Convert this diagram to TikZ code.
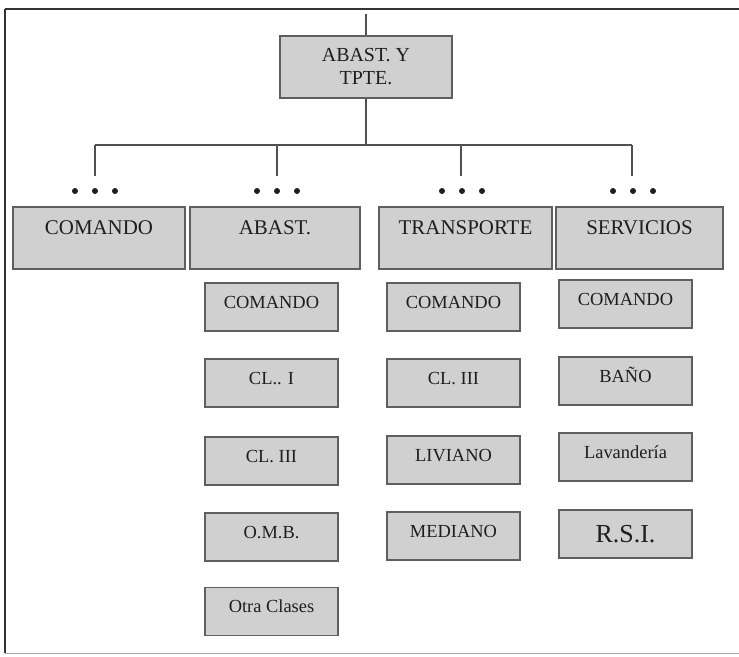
\documentclass[tikz,border=0pt]{standalone}
\usepackage{fontspec}
\setmainfont{Liberation Serif}
\usepackage{tikz}
\definecolor{caja}{RGB}{208,208,208}
\definecolor{borde}{RGB}{95,95,95}
\definecolor{linea}{RGB}{80,80,80}
\definecolor{texto}{RGB}{30,30,30}
\colorlet{marco}{black!80}
\newcommand\fa{\fontsize{20}{23}\selectfont}
\newcommand\fb{\fontsize{21}{24}\selectfont}
\newcommand\fc{\fontsize{18.5}{21}\selectfont}

\begin{document}
\begin{tikzpicture}[x=1bp,y=-1bp]%
        \useasboundingbox (0,0) rectangle (739,657);%%
        \draw[line width=1.8bp,marco] (5,9)--(739,9);%%
        \draw[line width=1.8bp,marco] (5,9)--(5,653);%%
        \draw[line width=1bp,black!35] (5,653)--(739,653);%%
        \begin{scope}[shape=rectangle,inner sep=0pt]
        \tikzstyle{every node}=[draw=borde,fill=caja,line width=1.1bp,text=texto,font=\fa,align=center] %%
        \node[minimum width=172bp,minimum height=62bp] (abt) at (366,67)  {ABAST. Y\\TPTE.}; %%
        \end{scope}
        \begin{scope}[shape=rectangle,inner sep=0pt]
        \tikzstyle{every node}=[draw=borde,fill=caja,line width=1.1bp,text=texto,font=\fb,minimum height=62bp,text height=14bp,text depth=22bp] %%
        \node[minimum width=172bp] (com) at (99,238)  {COMANDO}; %%
        \node[minimum width=170bp] (aba) at (275,238)  {ABAST.}; %%
        \node[minimum width=173bp] (tra) at (465.5,238)  {TRANSPORTE}; %%
        \node[minimum width=167bp] (ser) at (639.5,238)  {SERVICIOS}; %%
        \end{scope}
        \begin{scope}[shape=rectangle,inner sep=0pt]
        \tikzstyle{every node}=[draw=borde,fill=caja,line width=1.1bp,text=texto,font=\fc,minimum width=133bp,minimum height=48bp,text height=13bp,text depth=11bp] %%
        \node (a1) at (271.5,307)  {COMANDO}; %%
        \node (a2) at (271.5,383)  {CL.. I}; %%
        \node (a3) at (271.5,461)  {CL. III}; %%
        \node (a4) at (271.5,537)  {O.M.B.}; %%
        \node (a5) at (271.5,611.5)  {Otra Clases}; %%
        \node (t1) at (453.5,307)  {COMANDO}; %%
        \node (t2) at (453.5,383)  {CL. III}; %%
        \node (t3) at (453.5,460)  {LIVIANO}; %%
        \node (t4) at (453.5,536)  {MEDIANO}; %%
        \node (s1) at (625.5,304)  {COMANDO}; %%
        \node (s2) at (625.5,381)  {BAÑO}; %%
        \node (s3) at (625.5,457)  {Lavandería}; %%
        \node[font=\fontsize{26}{28}\selectfont,text height=18bp,text depth=1bp] (s4) at (625.5,534)  {R.S.I.}; %%
        \end{scope}
        \coordinate (top) at (366,14); %%
        \coordinate (b1) at (95,145); %%
        \coordinate (b2) at (277,145); %%
        \coordinate (b3) at (461,145); %%
        \coordinate (b4) at (632,145); %%
        \coordinate (d1) at (95,176); %%
        \coordinate (d2) at (277,176); %%
        \coordinate (d3) at (461,176); %%
        \coordinate (d4) at (632,176); %%
        \draw[line width=1.5bp,linea] (top)--(abt); %%
        \draw[line width=1.5bp,linea] (abt)--(abt |- b1); %%
        \draw[line width=1.5bp,linea] (b1)--(b4); %%
        \draw[line width=1.5bp,linea] (b1)--(d1); %%
        \draw[line width=1.5bp,linea] (b2)--(d2); %%
        \draw[line width=1.5bp,linea] (b3)--(d3); %%
        \draw[line width=1.5bp,linea] (b4)--(d4); %%
        \fill[texto] (75,191) circle (3bp) (95,191) circle (3bp) (115,191) circle (3bp); %%
        \fill[texto] (257,191) circle (3bp) (277,191) circle (3bp) (297,191) circle (3bp); %%
        \fill[texto] (442,191) circle (3bp) (462,191) circle (3bp) (482,191) circle (3bp); %%
        \fill[texto] (613,191) circle (3bp) (633,191) circle (3bp) (653,191) circle (3bp); %%
\end{tikzpicture}
\end{document}
